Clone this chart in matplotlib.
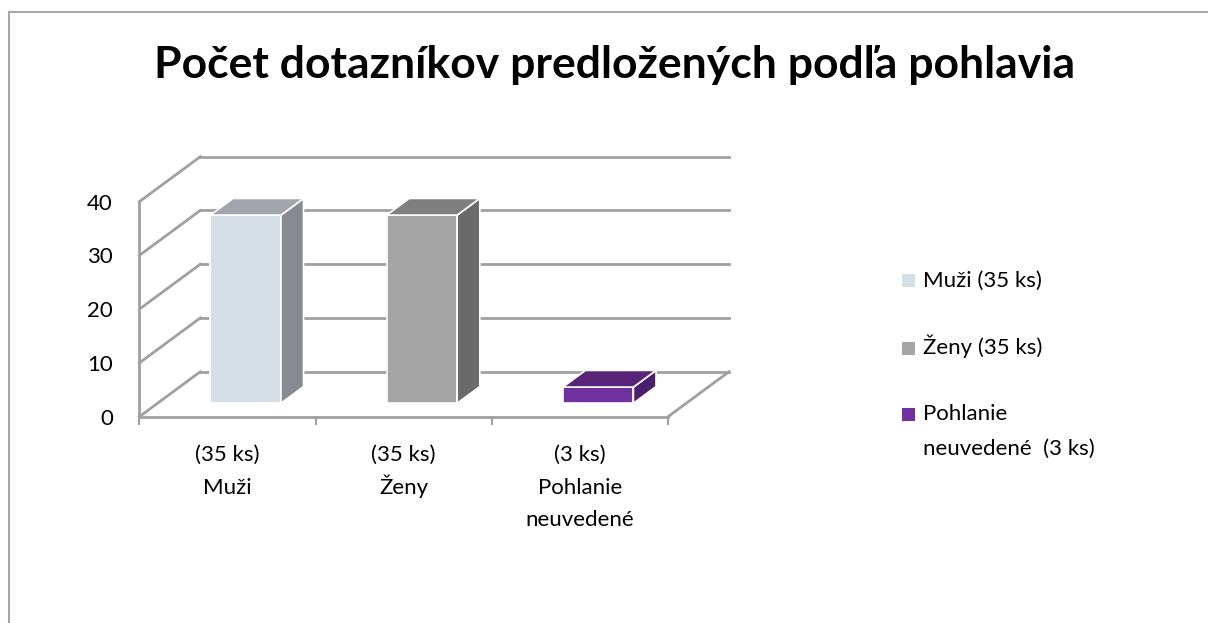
import matplotlib.pyplot as plt
from matplotlib.patches import Polygon, Rectangle
from matplotlib.lines import Line2D

plt.rcParams['font.family'] = ['Lato', 'DejaVu Sans']

# data
categories = [['(35 ks)', 'Muži'], ['(35 ks)', 'Ženy'], ['(3 ks)', 'Pohlanie', 'neuvedené']]
values = [35, 35, 3]
legend_labels = [['Muži (35 ks)'], ['Ženy (35 ks)'], ['Pohlanie', 'neuvedené  (3 ks)']]
front_colors = ['#D6DEE6', '#A5A5A5', '#7030A0']
side_colors = ['#878B91', '#6A6A6A', '#4B1F6C']
top_colors = ['#A2A6AC', '#7F7F7F', '#582479']
yticks = [0, 10, 20, 30, 40]

W, H = 1208, 623
grid_c = '#A0A0A0'
FS = 16

fig = plt.figure(figsize=(W / 100, H / 100), dpi=100)

def fx(px):
    return px / W

def fy(py):
    return 1 - py / H

# front plane of the 3d box
x0, x1, yb, yt = 139.3, 668.0, 416.7, 201.7
ax = fig.add_axes([fx(x0), fy(yb), (x1 - x0) / W, (yb - yt) / H])
ncat = len(categories)
ax.set_xlim(0, ncat)
ax.set_ylim(0, 40)

# depth of the box (pixels -> data units)
dx = 61 * ncat / (x1 - x0)
dy = 45 * 40 / (yb - yt)

# back wall gridlines + side wall diagonals
for v in yticks:
    ax.plot([dx, ncat + dx], [v + dy, v + dy], color=grid_c, lw=2, clip_on=False, zorder=1)
    ax.plot([0, dx], [v, v + dy], color=grid_c, lw=2, clip_on=False, zorder=1)
# floor right edge
ax.plot([ncat, ncat + dx], [0, dy], color=grid_c, lw=2, clip_on=False, zorder=1)

# bars
w = 0.4
f0, fd = 0.3, 0.37
for i, v in enumerate(values):
    bx = i + 0.5 - w / 2 + f0 * dx
    by = f0 * dy
    ddx, ddy = fd * dx, fd * dy
    front = [(bx, by), (bx + w, by), (bx + w, by + v), (bx, by + v)]
    side = [(bx + w, by), (bx + w + ddx, by + ddy), (bx + w + ddx, by + v + ddy), (bx + w, by + v)]
    top = [(bx, by + v), (bx + w, by + v), (bx + w + ddx, by + v + ddy), (bx + ddx, by + v + ddy)]
    for pts, c in [(front, front_colors[i]), (side, side_colors[i]), (top, top_colors[i])]:
        ax.add_patch(Polygon(pts, closed=True, facecolor=c, edgecolor='white', lw=1.2,
                             clip_on=False, zorder=3))

for s in ['top', 'right']:
    ax.spines[s].set_visible(False)
for s in ['left', 'bottom']:
    ax.spines[s].set_color(grid_c)
    ax.spines[s].set_linewidth(2)
    ax.spines[s].set_zorder(2)

ax.set_yticks(yticks)
ax.set_yticklabels([str(t) for t in yticks], fontsize=FS)
ax.tick_params(axis='y', length=0, pad=19)

ax.set_xticks(range(ncat + 1))
ax.set_xticklabels([])
ax.tick_params(axis='x', which='major', length=6, width=1.5, color=grid_c)
ax.set_facecolor('none')

# category labels, one line at a time (baselines in pixels)
xt = ax.get_xaxis_transform()
ax_h = yb - yt
for i, lines in enumerate(categories):
    for k, line in enumerate(lines):
        by_px = 461 + 32.5 * k
        ax.text(i + 0.5, -(by_px - yb) / ax_h, line, transform=xt, ha='center',
                va='baseline', fontsize=FS, clip_on=False)

# title
fig.text(fx(615), fy(78), 'Počet dotazníkov predložených podľa pohlavia',
         ha='center', va='baseline', fontsize=32, fontweight='bold')

# legend
leg_rows = [280, 348, 414]
for lines, c, ry in zip(legend_labels, front_colors, leg_rows):
    fig.add_artist(Rectangle((fx(902), fy(ry + 6.5)), 13 / W, 13 / H, facecolor=c,
                             edgecolor='none', transform=fig.transFigure))
    for k, line in enumerate(lines):
        fig.text(fx(923), fy(ry + 6.5 + 34 * k), line, ha='left', va='baseline', fontsize=FS)

# outer frame
fig.add_artist(Line2D([fx(9), fx(9)], [fy(12), 0], color='#A6A6A6', lw=1.5,
                      transform=fig.transFigure))
fig.add_artist(Line2D([fx(9), 1], [fy(12), fy(12)], color='#A6A6A6', lw=1.5,
                      transform=fig.transFigure))

fig.savefig('out.png', dpi=100)
